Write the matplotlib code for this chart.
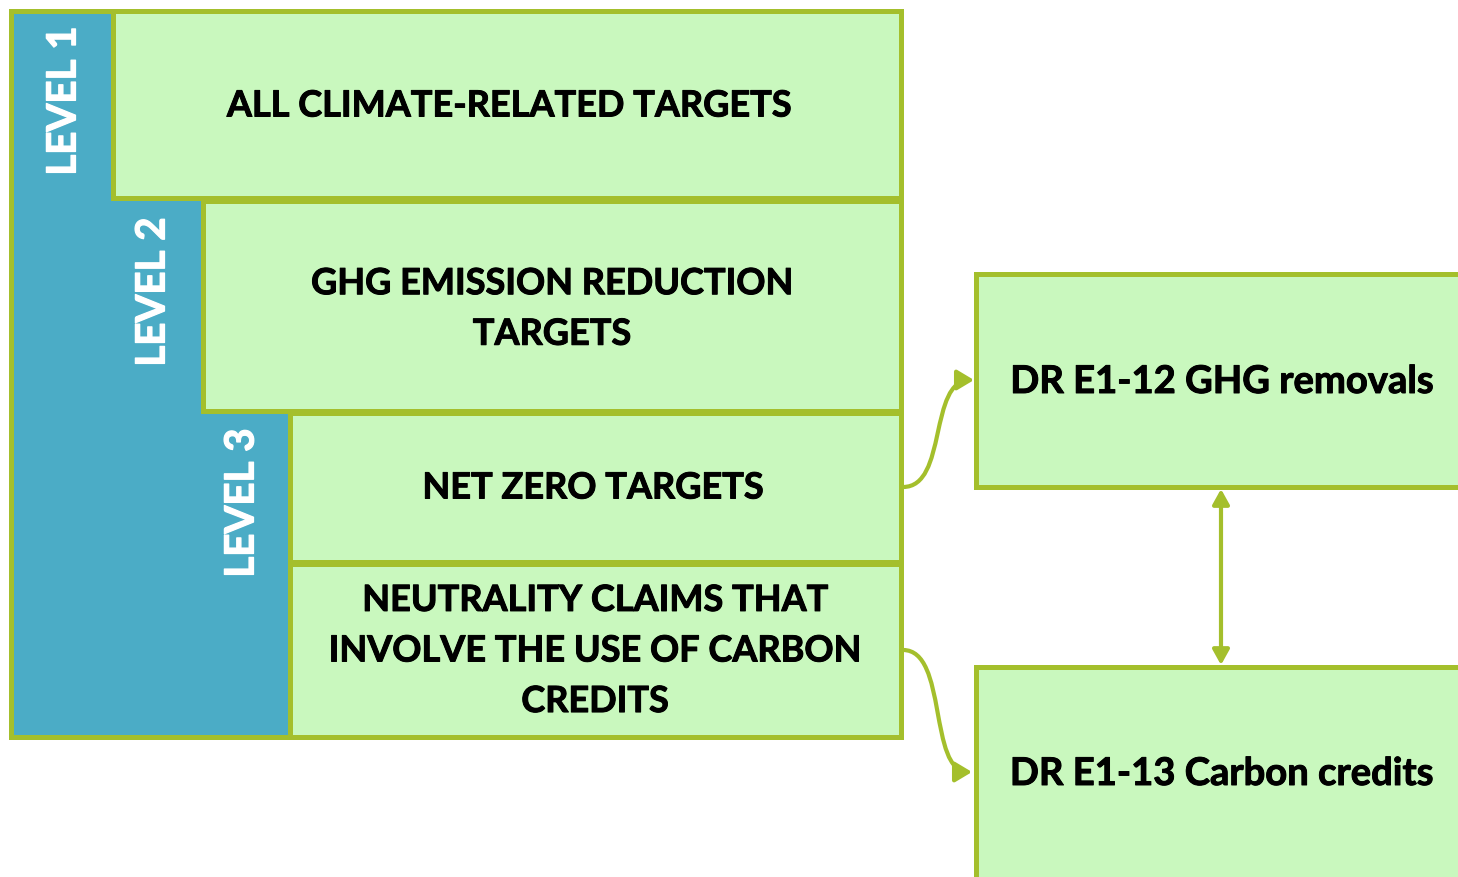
import matplotlib
matplotlib.use("Agg")
import matplotlib.pyplot as plt
from matplotlib.patches import Rectangle, FancyArrowPatch
from matplotlib.path import Path
import matplotlib.patheffects as pe

# ---- content ----
level_labels = ["LEVEL 1", "LEVEL 2", "LEVEL 3"]
box_labels = [
    "ALL CLIMATE-RELATED TARGETS",
    "GHG EMISSION REDUCTION\nTARGETS",
    "NET ZERO TARGETS",
    "NEUTRALITY CLAIMS THAT\nINVOLVE THE USE OF CARBON\nCREDITS",
]
dr_labels = ["DR E1-12 GHG removals", "DR E1-13 Carbon credits"]

# ---- layout (pixels) ----
W, H = 1458, 877
GREEN_EDGE = "#A4BF2C"
FILL = "#C9F8BE"
BLUE = "#4BACC6"
FONT = "Lato"

fig = plt.figure(figsize=(W / 100, H / 100), dpi=100)
ax = fig.add_axes([0, 0, 1, 1])
ax.set_xlim(0, W)
ax.set_ylim(H, 0)
ax.axis("off")

lw = 3.6
thick_black = [pe.withStroke(linewidth=0.7, foreground="black")]
thick_white = [pe.withStroke(linewidth=0.9, foreground="white")]

# blue background
ax.add_patch(Rectangle((11, 11), 280, 726, facecolor=BLUE, edgecolor=GREEN_EDGE, lw=lw, zorder=1))

# boxes: (x0, y0, x1, y1)
boxes = [(113, 11, 901, 198), (203, 201, 901, 411), (290, 413, 901, 562), (290, 564, 901, 737)]
text_y = [106, 309, 488, 651]
text_x = [509, 552, 593, 595]
for (x0, y0, x1, y1), lab, tx, ty in zip(boxes, box_labels, text_x, text_y):
    ax.add_patch(Rectangle((x0, y0), x1 - x0, y1 - y0, facecolor=FILL,
                           edgecolor=GREEN_EDGE, lw=lw, zorder=2))
    ax.text(tx, ty, lab, ha="center", va="center", fontsize=26, fontweight="bold",
            family=FONT, color="black", linespacing=1.65, zorder=5,
            path_effects=thick_black)

# level labels (rotated)
level_pos = [(64, 101), (153, 292), (242, 503)]
for (lx, ly), lab in zip(level_pos, level_labels):
    ax.text(lx, ly, lab, rotation=90, ha="center", va="center", fontsize=29,
            fontweight="bold", family=FONT, color="white", zorder=5,
            path_effects=thick_white)

# right boxes (cut off at right/bottom edge)
rboxes = [(976, 274, 1520, 487), (976, 667, 1520, 920)]
rtext = [(1222, 382), (1222, 774)]
for (x0, y0, x1, y1), lab, (tx, ty) in zip(rboxes, dr_labels, rtext):
    ax.add_patch(Rectangle((x0, y0), x1 - x0, y1 - y0, facecolor=FILL,
                           edgecolor=GREEN_EDGE, lw=lw, zorder=2, clip_on=True))
    ax.text(tx, ty, lab, ha="center", va="center", fontsize=27.5, fontweight="bold",
            family=FONT, color="black", zorder=5, path_effects=thick_black)

# curved connectors
for p0, p3 in [((903, 487), (974, 380)), ((903, 650), (972, 772))]:
    path = Path([p0, (948, p0[1]), (928, p3[1]), p3],
                [Path.MOVETO, Path.CURVE4, Path.CURVE4, Path.CURVE4])
    ax.add_patch(FancyArrowPatch(path=path, arrowstyle="-|>,head_length=10,head_width=6",
                                 color=GREEN_EDGE, lw=3.0, zorder=3, shrinkA=0, shrinkB=0))

# double arrow between DR boxes
ax.add_patch(FancyArrowPatch((1221, 489), (1221, 665),
                             arrowstyle="<|-|>,head_length=9,head_width=5",
                             color=GREEN_EDGE, lw=3.0, zorder=3, shrinkA=0, shrinkB=0))

fig.savefig("out.png", dpi=100)
